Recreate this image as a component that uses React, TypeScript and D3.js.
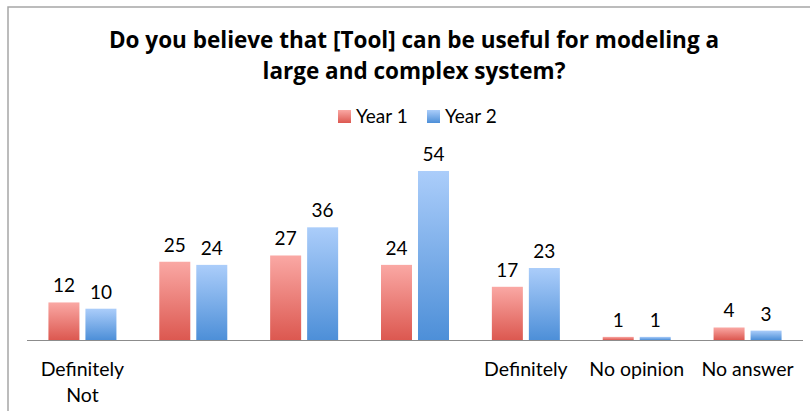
import React, { useRef, useEffect } from "react";
import * as d3 from "d3";

// chart data
const categories = ["Definitely Not", "", "", "", "Definitely", "No opinion", "No answer"];
const seriesNames = ["Year 1", "Year 2"];
const year1 = [12, 25, 27, 24, 17, 1, 4];
const year2 = [10, 24, 36, 54, 23, 1, 3];
const titleLines = [
  "Do you believe that [Tool] can be useful for modeling a",
  "large and complex system?",
];

const WIDTH = 810;
const HEIGHT = 411;
const FONT = "Lato, 'Open Sans', sans-serif";
const TITLE_FONT = "'Open Sans', Lato, sans-serif";

const App: React.FC = () => {
  const svgRef = useRef<SVGSVGElement | null>(null);

  useEffect(() => {
    const svg = d3.select(svgRef.current);
    svg.selectAll("*").remove();

    const defs = svg.append("defs");
    const grads = [
      { id: "gradRed", top: "#faa8a4", bottom: "#dc5850" },
      { id: "gradBlue", top: "#abcdfa", bottom: "#4d8fd8" },
    ];
    grads.forEach((g) => {
      const lg = defs
        .append("linearGradient")
        .attr("id", g.id)
        .attr("x1", 0)
        .attr("y1", 0)
        .attr("x2", 0)
        .attr("y2", 1);
      lg.append("stop").attr("offset", "0%").attr("stop-color", g.top);
      lg.append("stop").attr("offset", "100%").attr("stop-color", g.bottom);
    });
    const fills = ["url(#gradRed)", "url(#gradBlue)"];

    // chart frame (runs off the right / bottom of the picture)
    svg
      .append("rect")
      .attr("x", 8)
      .attr("y", 7)
      .attr("width", WIDTH + 20)
      .attr("height", HEIGHT + 20)
      .attr("fill", "white")
      .attr("stroke", "#a6a6a6")
      .attr("stroke-width", 1.5);

    // title
    const title = svg
      .append("text")
      .attr("text-anchor", "middle")
      .attr("font-family", TITLE_FONT)
      .attr("font-weight", "bold")
      .attr("font-size", 22.5)
      .attr("fill", "#000");
    titleLines.forEach((line, i) => {
      title
        .append("tspan")
        .attr("x", 414)
        .attr("y", 48 + i * 31)
        .text(line);
    });

    // legend
    const legendX = [338, 427];
    seriesNames.forEach((name, i) => {
      const g = svg.append("g").attr("transform", `translate(${legendX[i]},110)`);
      g.append("rect").attr("width", 13).attr("height", 13).attr("fill", fills[i]);
      g.append("text")
        .attr("x", 18)
        .attr("y", 13)
        .attr("font-family", FONT)
        .attr("font-size", 19)
        .attr("fill", "#000")
        .text(name);
    });

    // scales
    const x0 = d3
      .scaleBand<number>()
      .domain(d3.range(categories.length))
      .range([27, 803]);
    const bw = x0.bandwidth();
    const x1 = d3
      .scaleBand<string>()
      .domain(seriesNames)
      .range([bw / 2 - 34, bw / 2 + 34])
      .paddingInner(0.162);
    const y = d3.scaleLinear().domain([0, 60]).range([340, 152.2]);

    const data = [year1, year2];

    const groups = svg
      .selectAll("g.cat")
      .data(categories)
      .join("g")
      .attr("class", "cat")
      .attr("transform", (_d, i) => `translate(${x0(i)},0)`);

    seriesNames.forEach((name, s) => {
      groups
        .append("rect")
        .attr("x", x1(name)!)
        .attr("y", (_d, i) => y(data[s][i]))
        .attr("width", x1.bandwidth())
        .attr("height", (_d, i) => y(0) - y(data[s][i]))
        .attr("fill", fills[s]);

      groups
        .append("text")
        .attr("x", x1(name)! + x1.bandwidth() / 2)
        .attr("y", (_d, i) => y(data[s][i]) - 10)
        .attr("text-anchor", "middle")
        .attr("font-family", FONT)
        .attr("font-size", 19)
        .attr("fill", "#000")
        .text((_d, i) => data[s][i]);
    });

    // axis baseline
    svg
      .append("line")
      .attr("x1", 27)
      .attr("x2", 803)
      .attr("y1", y(0) + 0.5)
      .attr("y2", y(0) + 0.5)
      .attr("stroke", "#8c8c8c")
      .attr("stroke-width", 1.2);

    // category labels (wrap "Definitely Not")
    groups.each(function (d) {
      const words = d.split(" ");
      const lines: string[] = [];
      let cur = "";
      words.forEach((w) => {
        const test = cur ? `${cur} ${w}` : w;
        if (test.length > 10 && cur) {
          lines.push(cur);
          cur = w;
        } else cur = test;
      });
      if (cur) lines.push(cur);
      const t = d3
        .select(this)
        .append("text")
        .attr("text-anchor", "middle")
        .attr("font-family", FONT)
        .attr("font-size", 19.5)
        .attr("fill", "#000");
      lines.forEach((l, i) => {
        t.append("tspan")
          .attr("x", bw / 2)
          .attr("y", 376 + i * 26)
          .text(l);
      });
    });

    return () => {
      d3.select(svgRef.current).selectAll("*").remove();
    };
  }, []);

  return (
    <svg
      ref={svgRef}
      width={WIDTH}
      height={HEIGHT}
      style={{ position: "absolute", left: 0, top: 0, display: "block", background: "white" }}
    ></svg>
  );
};

export default App;
